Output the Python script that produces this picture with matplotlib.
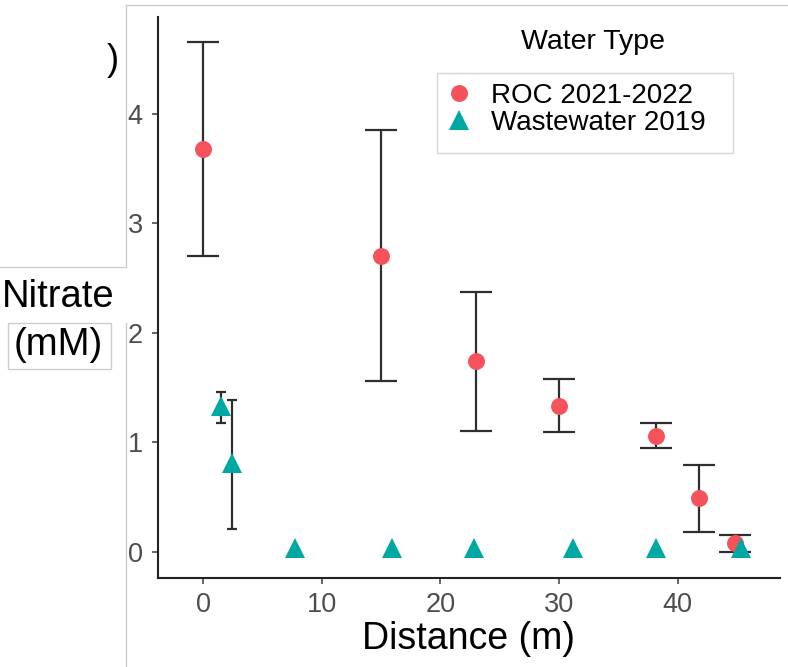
import matplotlib
matplotlib.use("Agg")
import matplotlib.pyplot as plt
from matplotlib.lines import Line2D
from matplotlib.patches import Rectangle

plt.rcParams["font.family"] = ["Liberation Sans", "DejaVu Sans"]

# ROC 2021-2022 (mean with min/max bars)
roc_x = [0, 15, 23, 30, 38.2, 41.8, 44.8]
roc_y = [3.68, 2.70, 1.74, 1.33, 1.06, 0.49, 0.08]
roc_hi = [4.66, 3.85, 2.37, 1.58, 1.18, 0.79, 0.15]
roc_lo = [2.70, 1.56, 1.10, 1.09, 0.945, 0.18, 0.00]

# Wastewater 2019
ww_x = [1.5, 2.4, 7.7, 15.9, 22.8, 31.2, 38.2, 45.3]
ww_y = [1.33, 0.81, 0.03, 0.03, 0.03, 0.03, 0.03, 0.03]
ww_err_x = [1.5, 2.4]
ww_err_y = [1.33, 0.81]
ww_hi = [1.46, 1.39]
ww_lo = [1.18, 0.21]

RED = "#F5525B"
TEAL = "#00A8A4"
BAR = "#2E2E2E"
TICK = "#4D4D4D"

W, H = 788, 667
fig = plt.figure(figsize=(W / 100, H / 100), dpi=100)
fig.patch.set_facecolor("white")

# overlay in pixel coords for the pasted-in bits of the composite figure
ov = fig.add_axes([0, 0, 1, 1], zorder=-1)
ov.set_xlim(0, W)
ov.set_ylim(H, 0)
ov.axis("off")
ov.patch.set_alpha(0)

# plot panel placed in pixel coords
L, R, T, B = 158, 780, 17, 578
ax = fig.add_axes([L / W, 1 - B / H, (R - L) / W, (B - T) / H])
ax.patch.set_alpha(0)
ax.set_xlim(-3.82, 48.63)
ax.set_ylim(-0.24, 4.884)

roc_err = [[y - lo for y, lo in zip(roc_y, roc_lo)],
           [hi - y for y, hi in zip(roc_y, roc_hi)]]
ax.errorbar(roc_x, roc_y, yerr=roc_err, fmt="none", ecolor=BAR,
            elinewidth=1.6, capsize=11.5, capthick=1.6, zorder=2)
ww_err = [[y - lo for y, lo in zip(ww_err_y, ww_lo)],
          [hi - y for y, hi in zip(ww_err_y, ww_hi)]]
ax.errorbar(ww_err_x, ww_err_y, yerr=ww_err, fmt="none", ecolor=BAR,
            elinewidth=1.6, capsize=3.8, capthick=1.6, zorder=2)

ax.plot(roc_x, roc_y, "o", color=RED, ms=12.2, mew=0, zorder=3)
ax.plot(ww_x, ww_y, "^", color=TEAL, ms=15, mew=0, zorder=4)

for side in ("top", "right"):
    ax.spines[side].set_visible(False)
for side in ("left", "bottom"):
    ax.spines[side].set_color("#222222")
    ax.spines[side].set_linewidth(1.5)

ax.set_xticks([0, 10, 20, 30, 40])
ax.set_yticks([0, 1, 2, 3, 4])
ax.tick_params(axis="both", colors=TICK, labelcolor=TICK, labelsize=19.5,
               length=4, width=1.2)
ax.tick_params(axis="y", pad=7)
ax.tick_params(axis="x", pad=6)

ax.set_xlabel("Distance (m)", fontsize=27, color="black", labelpad=2)

# legend: entries from matplotlib, box and title drawn where ggplot put them
handles = [Line2D([], [], ls="none", marker="o", color=RED, ms=12.2, mew=0),
           Line2D([], [], ls="none", marker="^", color=TEAL, ms=14, mew=0)]
leg = ax.legend(handles, ["ROC 2021-2022", "Wastewater 2019"],
                loc="upper left", bbox_to_anchor=(437 / W, 1 - 73 / H),
                bbox_transform=fig.transFigure, borderaxespad=0,
                fontsize=20, frameon=False, borderpad=0.35, handlelength=0.9,
                handletextpad=0.7, labelspacing=0.05)
ov.add_patch(Rectangle((437, 73), 296, 80, fill=False, edgecolor="#D6D6D6", lw=1))
fig.text(593 / W, 1 - 42 / H, "Water Type", ha="center", va="center",
         fontsize=20.5, color="black")

GRAY = "#CCCCCC"
ov.plot([126, W], [5, 5], color=GRAY, lw=1)
ov.plot([126, 126], [5, 267], color=GRAY, lw=1)
ov.plot([0, 126], [267, 267], color=GRAY, lw=1)
ov.plot([126, 126], [323, H], color=GRAY, lw=1)
ov.add_patch(Rectangle((8, 323), 103, 46, fill=False, edgecolor=GRAY, lw=1))
ov.text(58, 297, "Nitrate", ha="center", va="center", fontsize=27.5, color="black")
ov.text(58, 345, "(mM)", ha="center", va="center", fontsize=27.5, color="black")
ov.text(119, 60, ")", ha="right", va="center", fontsize=26, color="black")

fig.savefig("out.png", dpi=100, facecolor="white")
